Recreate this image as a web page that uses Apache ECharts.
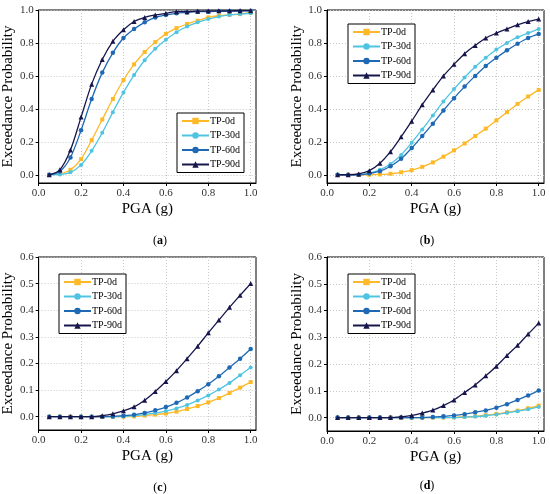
<!DOCTYPE html>
<html>
<head>
<meta charset="utf-8">
<script src="https://cdn.jsdelivr.net/npm/echarts@6/dist/echarts.min.js"></script>
<style>
html, body { margin: 0; padding: 0; background: #fff; }
#main { width: 550px; height: 494px; }
</style>
</head>
<body>
<div id="main"></div>
<script>
var myChart = echarts.init(document.getElementById('main'));

// PGA values (g)
var pga = [0.05, 0.10, 0.15, 0.20, 0.25, 0.30, 0.35, 0.40, 0.45, 0.50,
           0.55, 0.60, 0.65, 0.70, 0.75, 0.80, 0.85, 0.90, 0.95, 1.00];
var seriesNames = ['TP-0d', 'TP-30d', 'TP-60d', 'TP-90d'];
var panelLabels = ['a', 'b', 'c', 'd'];
var xTicks = [0, 0.2, 0.4, 0.6, 0.8, 1.0];
var yTicksAB = [0, 0.2, 0.4, 0.6, 0.8, 1.0];
var yTicksCD = [0, 0.1, 0.2, 0.3, 0.4, 0.5, 0.6];

// (a)
var a0  = [0, 0.005, 0.03, 0.095, 0.21, 0.335, 0.46, 0.575, 0.67, 0.745, 0.805, 0.855, 0.89, 0.915, 0.935, 0.955, 0.965, 0.97, 0.975, 0.985];
var a30 = [0, 0.002, 0.015, 0.06, 0.145, 0.255, 0.38, 0.50, 0.605, 0.695, 0.765, 0.82, 0.865, 0.90, 0.925, 0.945, 0.96, 0.97, 0.975, 0.98];
var a60 = [0, 0.02, 0.105, 0.27, 0.46, 0.62, 0.74, 0.83, 0.885, 0.925, 0.955, 0.97, 0.98, 0.985, 0.99, 0.99, 0.992, 0.993, 0.994, 0.995];
var a90 = [0, 0.03, 0.15, 0.35, 0.55, 0.70, 0.81, 0.88, 0.93, 0.955, 0.97, 0.98, 0.99, 0.99, 0.993, 0.994, 0.995, 0.995, 0.996, 0.996];
// (b)
var b0  = [0, 0, 0, 0, 0.002, 0.006, 0.015, 0.028, 0.048, 0.075, 0.11, 0.148, 0.19, 0.235, 0.28, 0.33, 0.38, 0.43, 0.475, 0.515];
var b30 = [0, 0, 0, 0.01, 0.03, 0.065, 0.12, 0.195, 0.275, 0.36, 0.445, 0.52, 0.59, 0.655, 0.71, 0.76, 0.80, 0.835, 0.86, 0.885];
var b60 = [0, 0, 0, 0.008, 0.022, 0.052, 0.097, 0.162, 0.235, 0.31, 0.39, 0.465, 0.535, 0.60, 0.66, 0.71, 0.755, 0.795, 0.83, 0.855];
var b90 = [0, 0, 0.005, 0.025, 0.07, 0.14, 0.23, 0.325, 0.425, 0.515, 0.60, 0.67, 0.735, 0.785, 0.83, 0.86, 0.885, 0.91, 0.93, 0.945];
// (c)
var c0  = [0, 0, 0, 0, 0, 0, 0, 0, 0.001, 0.004, 0.008, 0.012, 0.019, 0.029, 0.04, 0.054, 0.07, 0.089, 0.109, 0.13];
var c30 = [0, 0, 0, 0, 0, 0, 0, 0.001, 0.004, 0.008, 0.014, 0.021, 0.031, 0.044, 0.061, 0.08, 0.102, 0.127, 0.156, 0.185];
var c60 = [0, 0, 0, 0, 0, 0, 0.001, 0.004, 0.007, 0.014, 0.024, 0.036, 0.052, 0.072, 0.096, 0.122, 0.152, 0.185, 0.218, 0.254];
var c90 = [0, 0, 0, 0, 0, 0.004, 0.011, 0.022, 0.037, 0.062, 0.095, 0.132, 0.173, 0.218, 0.265, 0.315, 0.363, 0.411, 0.456, 0.50];
// (d)
var d0  = [0, 0, 0, 0, 0, 0, 0, 0, 0, 0, 0, 0.001, 0.003, 0.005, 0.009, 0.014, 0.02, 0.026, 0.035, 0.045];
var d30 = [0, 0, 0, 0, 0, 0, 0, 0, 0, 0, 0, 0, 0.002, 0.004, 0.007, 0.012, 0.018, 0.024, 0.031, 0.04];
var d60 = [0, 0, 0, 0, 0, 0, 0, 0, 0, 0.002, 0.005, 0.008, 0.013, 0.02, 0.027, 0.037, 0.05, 0.066, 0.083, 0.101];
var d90 = [0, 0, 0, 0, 0, 0, 0.003, 0.008, 0.017, 0.028, 0.045, 0.066, 0.094, 0.122, 0.156, 0.192, 0.232, 0.27, 0.312, 0.353];

var panelData = [[a0, a30, a60, a90], [b0, b30, b60, b90], [c0, c30, c60, c90], [d0, d30, d60, d90]];
var yMax = [1.0, 1.0, 0.6, 0.6];
var yTicks = [yTicksAB, yTicksAB, yTicksCD, yTicksCD];

var colors = ['#FDB927', '#4FC4E2', '#1F69B4', '#16164C'];
var symbols = ['rect', 'circle', 'circle', 'triangle'];
var symSizes = [4, 4, 4.5, 5];

var font = '"Liberation Serif", "Times New Roman", serif';

var grids = [
    { left: 38, top: 10, width: 218, height: 173 },
    { left: 327, top: 10, width: 217, height: 173 },
    { left: 38, top: 257, width: 218, height: 173 },
    { left: 327, top: 257, width: 217, height: 174 }
];
var legendPos = [
    { left: 177, top: 113 },
    { left: 348, top: 24 },
    { left: 59, top: 274 },
    { left: 348, top: 274 }
];
var titlePos = [
    { left: 155, top: 230 },
    { left: 422, top: 230 },
    { left: 155, top: 477 },
    { left: 422, top: 475 }
];

var gridLine = { show: true, lineStyle: { color: '#c8c8c8', type: [1, 2], width: 1 } };

var xAxes = [], yAxes = [], series = [], legends = [], titles = [];
for (var p = 0; p < 4; p++) {
    xAxes.push({
        type: 'value', gridIndex: p, min: 0, max: 1.025, interval: 0.2,
        name: 'PGA (g)', nameLocation: 'middle', nameGap: 19,
        nameTextStyle: { fontFamily: font, fontSize: 15, color: '#000' },
        axisLine: { show: true, onZero: false, lineStyle: { color: '#000', width: 1 } },
        axisTick: { show: true, length: 3, customValues: xTicks, lineStyle: { color: '#000' } },
        axisLabel: { fontFamily: font, fontSize: 11, color: '#333', margin: 5, customValues: xTicks,
            formatter: function (v) { return v.toFixed(1); } },
        splitLine: echarts.util.merge({ customValues: xTicks }, gridLine)
    });
    yAxes.push({
        type: 'value', gridIndex: p, min: -0.05, max: yMax[p], interval: 0.05,
        name: 'Exceedance Probability', nameLocation: 'middle', nameGap: p % 2 ? 18 : 20,
        nameTextStyle: { fontFamily: font, fontSize: 15, color: '#000' },
        axisLine: { show: true, onZero: false, lineStyle: { color: '#000', width: 1 } },
        axisTick: { show: true, length: 3, customValues: yTicks[p], lineStyle: { color: '#000' } },
        axisLabel: { fontFamily: font, fontSize: 11, color: '#333', margin: 5, customValues: yTicks[p],
            formatter: function (v) { return v.toFixed(1); } },
        splitLine: echarts.util.merge({ customValues: yTicks[p] }, gridLine)
    });
    for (var s = 0; s < 4; s++) {
        var vals = panelData[p][s];
        series.push({
            name: seriesNames[s], type: 'line', xAxisIndex: p, yAxisIndex: p,
            data: pga.map(function (x, i) { return [x, vals[i]]; }),
            symbol: symbols[s], symbolSize: symSizes[s], showSymbol: true,
            smooth: 0.3,
            lineStyle: { color: colors[s], width: 1.3 },
            itemStyle: { color: colors[s] },
            z: 3 + s
        });
    }
    legends.push({
        data: seriesNames, orient: 'vertical',
        left: legendPos[p].left, top: legendPos[p].top,
        itemWidth: 27, itemHeight: 8, itemGap: 4.5,
        padding: [3, 4, 3, 4],
        borderColor: '#000', borderWidth: 1, backgroundColor: '#fff',
        textStyle: { fontFamily: font, fontSize: 10, color: '#000', padding: [0, 0, 0, -4] }
    });
    titles.push({
        text: '({b|' + panelLabels[p] + '})',
        left: titlePos[p].left, top: titlePos[p].top, textAlign: 'center',
        textStyle: {
            fontFamily: font, fontSize: 12, fontWeight: 'normal', color: '#000',
            rich: { b: { fontFamily: font, fontSize: 12, fontWeight: 'bold', color: '#000' } }
        }
    });
}

var option = {
    animation: false,
    backgroundColor: '#fff',
    title: titles,
    grid: grids.map(function (g) {
        return { left: g.left, top: g.top, width: g.width, height: g.height, show: true, borderColor: '#000', borderWidth: 1, containLabel: false };
    }),
    legend: legends,
    xAxis: xAxes,
    yAxis: yAxes,
    series: series
};

myChart.setOption(option);
</script>
</body>
</html>
